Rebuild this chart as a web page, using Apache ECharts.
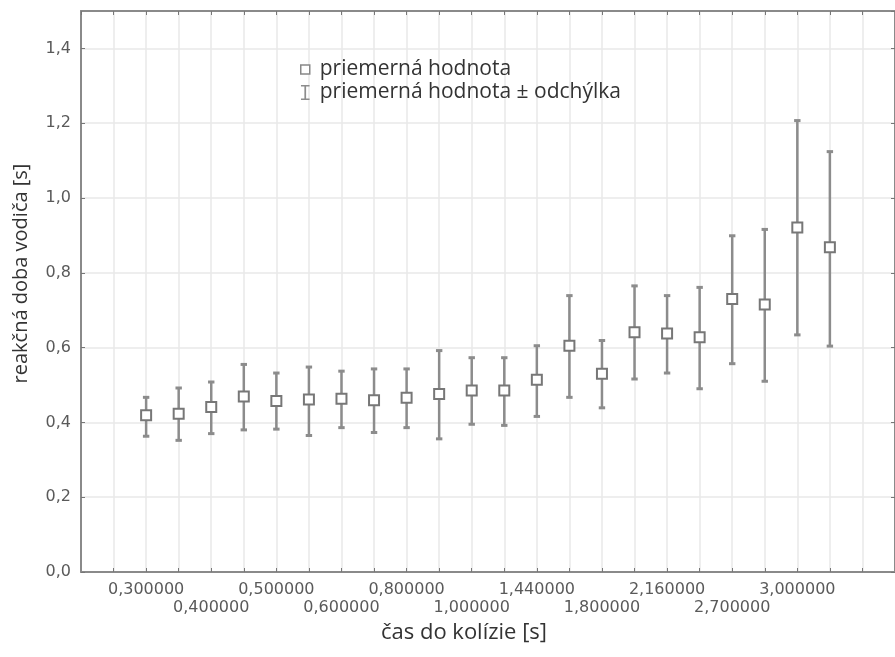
<!DOCTYPE html>
<html>
<head>
<meta charset="utf-8">
<script src="https://cdn.jsdelivr.net/npm/echarts@6/dist/echarts.min.js"></script>
<style>
  html, body { margin: 0; padding: 0; background: #fff; }
  #chart { width: 895px; height: 657px; }
</style>
</head>
<body>
<div id="chart"></div>
<script>
// time to collision categories (only every other one is labelled in the source)
const categories = [
  "0,300000", "", "0,400000", "", "0,500000", "", "0,600000", "",
  "0,800000", "", "1,000000", "", "1,440000", "", "1,800000", "",
  "2,160000", "", "2,700000", "", "3,000000", ""
];
// mean reaction time [s]
const meanValues = [
  0.419, 0.423, 0.441, 0.469, 0.457, 0.461, 0.463, 0.459, 0.466, 0.476, 0.485,
  0.485, 0.514, 0.605, 0.530, 0.641, 0.638, 0.628, 0.730, 0.715, 0.921, 0.868
];
// mean - deviation
const lowerValues = [
  0.363, 0.352, 0.370, 0.380, 0.382, 0.365, 0.386, 0.373, 0.386, 0.356, 0.395,
  0.392, 0.416, 0.467, 0.439, 0.516, 0.532, 0.490, 0.557, 0.510, 0.634, 0.604
];
// mean + deviation
const upperValues = [
  0.467, 0.492, 0.508, 0.555, 0.532, 0.548, 0.537, 0.543, 0.543, 0.592, 0.573,
  0.573, 0.605, 0.739, 0.619, 0.765, 0.739, 0.761, 0.899, 0.916, 1.207, 1.124
];
const yTicks = [0, 0.2, 0.4, 0.6, 0.8, 1.0, 1.2, 1.4];

const meanName = "priemerná hodnota";
const barName = "priemerná hodnota ± odchýlka";

const barColor = "#8c8c8c";
const frameColor = "#8a8a8a";

const meanData = meanValues.map((v, i) => [i, v]);
const barData = meanValues.map((v, i) => [i, lowerValues[i], upperValues[i]]);

function renderBar(params, api) {
  const x = api.value(0);
  const lo = api.coord([x, api.value(1)]);
  const hi = api.coord([x, api.value(2)]);
  const cap = 3.2;
  const st = { stroke: barColor, lineWidth: 2.5 };
  return {
    type: "group",
    children: [
      { type: "line", shape: { x1: hi[0], y1: hi[1], x2: lo[0], y2: lo[1] }, style: st },
      { type: "line", shape: { x1: hi[0] - cap, y1: hi[1], x2: hi[0] + cap, y2: hi[1] }, style: { stroke: barColor, lineWidth: 3 } },
      { type: "line", shape: { x1: lo[0] - cap, y1: lo[1], x2: lo[0] + cap, y2: lo[1] }, style: { stroke: barColor, lineWidth: 3 } }
    ]
  };
}

const tickFont = { fontFamily: "DejaVu Sans", fontSize: 16, color: "#5a5a5a" };
const titleFont = { fontFamily: "Open Sans", fontSize: 20, color: "#333" };

const chart = echarts.init(document.getElementById("chart"), null, { renderer: "canvas" });
chart.setOption({
  animation: false,
  backgroundColor: "#fff",
  grid: { left: 81, top: 11, right: -3, bottom: 85, show: false },
  legend: {
    orient: "vertical",
    left: 295,
    top: 54,
    itemGap: 2,
    itemWidth: 9,
    itemHeight: 15,
    textStyle: { ...titleFont, fontSize: 21, padding: [0, 0, 0, 5] },
    data: [
      { name: meanName, icon: "path://M0,0H10V10H0Z", itemStyle: { color: "#fff", borderColor: "#888", borderWidth: 1.5 } },
      { name: barName, icon: "path://M0,0H8V1.5H4.8V12.5H8V14H0V12.5H3.2V1.5H0Z", itemStyle: { color: barColor } }
    ]
  },
  xAxis: [
    {
      type: "value",
      min: -2,
      max: 23,
      interval: 1,
      name: "čas do kolízie [s]",
      nameLocation: "middle",
      nameGap: 49,
      nameTextStyle: { ...titleFont, fontSize: 22, padding: [0, 48, 0, 0] },
      axisLine: { show: true, onZero: false, lineStyle: { color: frameColor, width: 2 } },
      axisTick: { inside: true, length: 4, lineStyle: { color: "#777" } },
      splitLine: { show: true, lineStyle: { color: "#e8e8e8", width: 1.5 } },
      axisLabel: {
        ...tickFont,
        margin: 9,
        lineHeight: 18,
        showMinLabel: false,
        showMaxLabel: false,
        formatter: (v) => {
          const lab = categories[v];
          if (!lab) return "";
          return (v / 2) % 2 === 1 ? "\n" + lab : lab;
        }
      }
    },
    {
      type: "value",
      position: "top",
      min: -2,
      max: 23,
      interval: 1,
      axisLine: { show: true, onZero: false, lineStyle: { color: frameColor, width: 2 } },
      axisTick: { inside: true, length: 4, lineStyle: { color: "#777" } },
      axisLabel: { show: false },
      splitLine: { show: false }
    }
  ],
  yAxis: [
    {
      type: "value",
      min: 0,
      max: 1.5,
      interval: 0.2,
      name: "reakčná doba vodiča [s]",
      nameLocation: "middle",
      nameGap: 50,
      nameTextStyle: { ...titleFont, padding: [0, 0, 0, 36] },
      axisLine: { show: true, onZero: false, lineStyle: { color: frameColor, width: 2 } },
      axisTick: { inside: true, length: 4, lineStyle: { color: "#777" } },
      splitLine: { show: true, lineStyle: { color: "#e8e8e8", width: 1.5 } },
      axisLabel: {
        ...tickFont,
        margin: 10,
        showMaxLabel: false,
        formatter: (v) => (yTicks.includes(+v.toFixed(1)) ? v.toFixed(1).replace(".", ",") : "")
      }
    },
    {
      type: "value",
      position: "right",
      min: 0,
      max: 1.5,
      interval: 0.2,
      axisLine: { show: true, onZero: false, lineStyle: { color: frameColor, width: 2 } },
      axisTick: { inside: true, length: 4, lineStyle: { color: "#777" } },
      axisLabel: { show: false },
      splitLine: { show: false }
    }
  ],
  series: [
    {
      name: barName,
      type: "custom",
      renderItem: renderBar,
      itemStyle: { color: barColor },
      encode: { x: 0, y: [1, 2] },
      data: barData,
      z: 2
    },
    {
      name: meanName,
      type: "scatter",
      symbol: "rect",
      symbolSize: 10,
      itemStyle: { color: "#fff", borderColor: "#777", borderWidth: 2, opacity: 1 },
      data: meanData,
      z: 3
    }
  ]
});
</script>
</body>
</html>
